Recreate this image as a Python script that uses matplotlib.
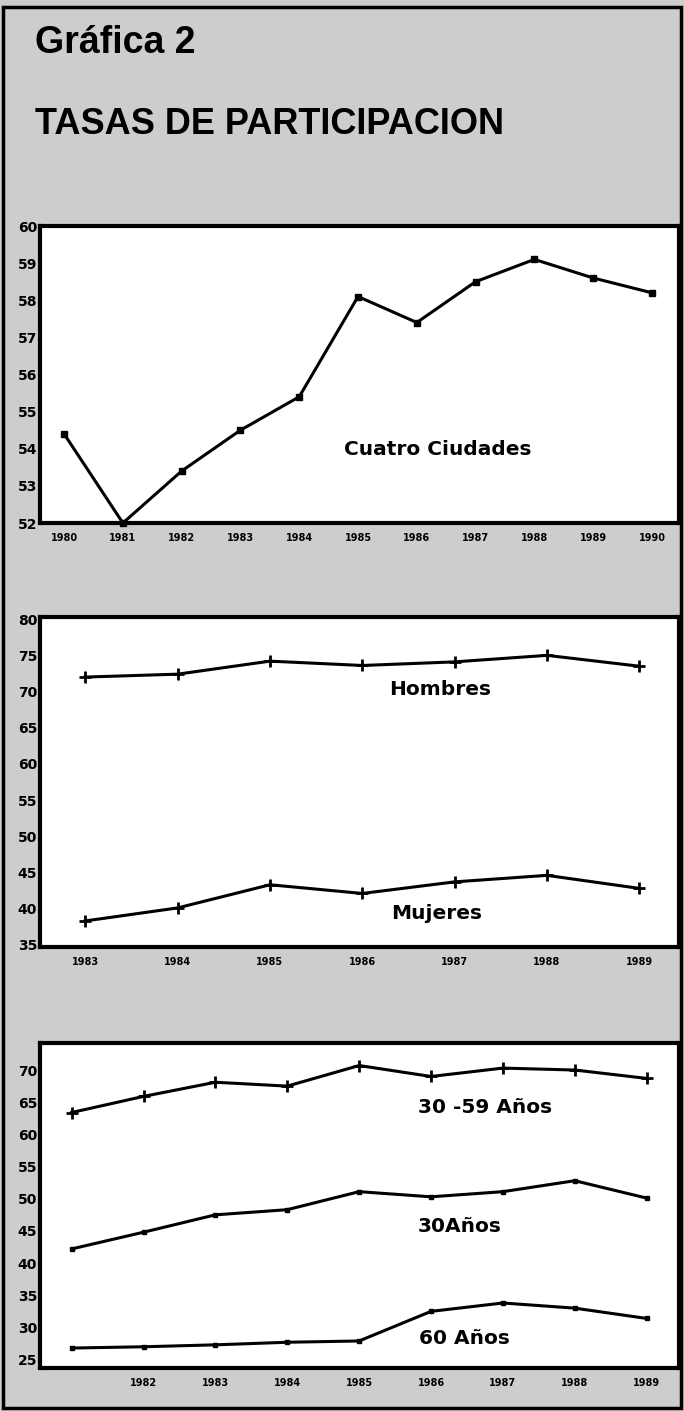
import matplotlib
matplotlib.use("Agg")
import matplotlib.pyplot as plt
from matplotlib.patches import Rectangle

# ---------------- data ----------------
years_top = [1980, 1981, 1982, 1983, 1984, 1985, 1986, 1987, 1988, 1989, 1990]
cuatro_ciudades = [54.4, 52.0, 53.4, 54.5, 55.4, 58.1, 57.4, 58.5, 59.1, 58.6, 58.2]
yticks_top = [52, 53, 54, 55, 56, 57, 58, 59, 60]

years_mid = [1983, 1984, 1985, 1986, 1987, 1988, 1989]
hombres = [72.0, 72.4, 74.2, 73.6, 74.1, 75.0, 73.5]
mujeres = [38.3, 40.1, 43.3, 42.1, 43.7, 44.6, 42.8]
yticks_mid = [35, 40, 45, 50, 55, 60, 65, 70, 75, 80]

years_bot = [1981, 1982, 1983, 1984, 1985, 1986, 1987, 1988, 1989]
xticks_bot = [1982, 1983, 1984, 1985, 1986, 1987, 1988, 1989]
edad_30_59 = [63.4, 65.9, 68.1, 67.5, 70.7, 69.0, 70.3, 70.0, 68.7]
edad_30 = [42.2, 44.8, 47.5, 48.3, 51.1, 50.3, 51.1, 52.8, 50.1]
edad_60 = [26.8, 27.0, 27.3, 27.7, 27.9, 32.5, 33.8, 33.0, 31.4]
yticks_bot = [25, 30, 35, 40, 45, 50, 55, 60, 65, 70]

title_1 = "Gráfica 2"
title_2 = "TASAS DE PARTICIPACION"

# ---------------- figure ----------------
W, H = 684, 1411
fig = plt.figure(figsize=(W / 100, H / 100), dpi=100)
fig.patch.set_facecolor("#cdcdcd")

fig.add_artist(Rectangle((0.004, 0.002), 0.992, 0.993, transform=fig.transFigure,
                         fill=False, edgecolor="black", linewidth=2.5))

LBL_FONT = ["DejaVu Sans"]
TICK_FONT = ["DejaVu Sans Condensed", "DejaVu Sans"]
LBL_SIZE = 14.5


def px_axes(left, top, right, bottom):
    return fig.add_axes([left / W, 1 - bottom / H, (right - left) / W, (bottom - top) / H])


def style(ax, xticks, yticks, xlim, ylim):
    ax.set_facecolor("white")
    ax.set_xlim(*xlim)
    ax.set_ylim(*ylim)
    ax.set_xticks(xticks)
    ax.set_xticklabels([str(t) for t in xticks], fontsize=7, fontweight="bold",
                       family=TICK_FONT)
    ax.set_yticks(yticks)
    ax.set_yticklabels([str(t) for t in yticks], fontsize=10, fontweight="bold",
                       family=TICK_FONT)
    ax.tick_params(axis="both", length=0)
    ax.tick_params(axis="x", pad=7)
    ax.tick_params(axis="y", pad=2)
    for s in ax.spines.values():
        s.set_linewidth(3.0)
        s.set_color("black")


def label(ax, x, y, s):
    ax.text(x, y, s, transform=ax.transAxes, ha="center", va="center",
            fontsize=LBL_SIZE, fontweight="bold", family=LBL_FONT)


# ---- panel 1 ----
ax1 = px_axes(40, 226, 679, 523)
ax1.plot(years_top, cuatro_ciudades, color="black", lw=2.2, marker="s", ms=4,
         clip_on=False, zorder=3)
style(ax1, years_top, yticks_top, (1979.59, 1990.46), (52, 60))
label(ax1, 0.623, 0.246, "Cuatro Ciudades")

# ---- panel 2 ----
ax2 = px_axes(40, 617, 679, 947)
ax2.plot(years_mid, hombres, color="black", lw=2.2, marker="+", ms=9, mew=2, zorder=3)
ax2.plot(years_mid, mujeres, color="black", lw=2.2, marker="+", ms=9, mew=2, zorder=3)
style(ax2, years_mid, yticks_mid, (1982.51, 1989.43), (34.7, 80.3))
label(ax2, 0.626, 0.78, "Hombres")
label(ax2, 0.621, 0.103, "Mujeres")

# ---- panel 3 ----
ax3 = px_axes(40, 1043, 679, 1368)
ax3.plot(years_bot, edad_30_59, color="black", lw=2.2, marker="+", ms=9, mew=2, zorder=3)
ax3.plot(years_bot, edad_30, color="black", lw=2.2, marker="s", ms=3, zorder=3)
ax3.plot(years_bot, edad_60, color="black", lw=2.2, marker="s", ms=3, zorder=3)
style(ax3, xticks_bot, yticks_bot, (1980.56, 1989.45), (23.7, 74.2))
label(ax3, 0.696, 0.803, "30 -59 Años")
label(ax3, 0.657, 0.434, "30Años")
label(ax3, 0.665, 0.092, "60 Años")

# ---- titles ----
fig.text(35 / W, 1 - 43 / H, title_1, ha="left", va="center", fontsize=27,
         fontweight="bold", family=["Liberation Sans", "DejaVu Sans"])
fig.text(35 / W, 1 - 125 / H, title_2, ha="left", va="center", fontsize=26,
         fontweight="bold", family=["Liberation Sans", "DejaVu Sans"])

fig.savefig("out.png", dpi=100, facecolor=fig.get_facecolor())
